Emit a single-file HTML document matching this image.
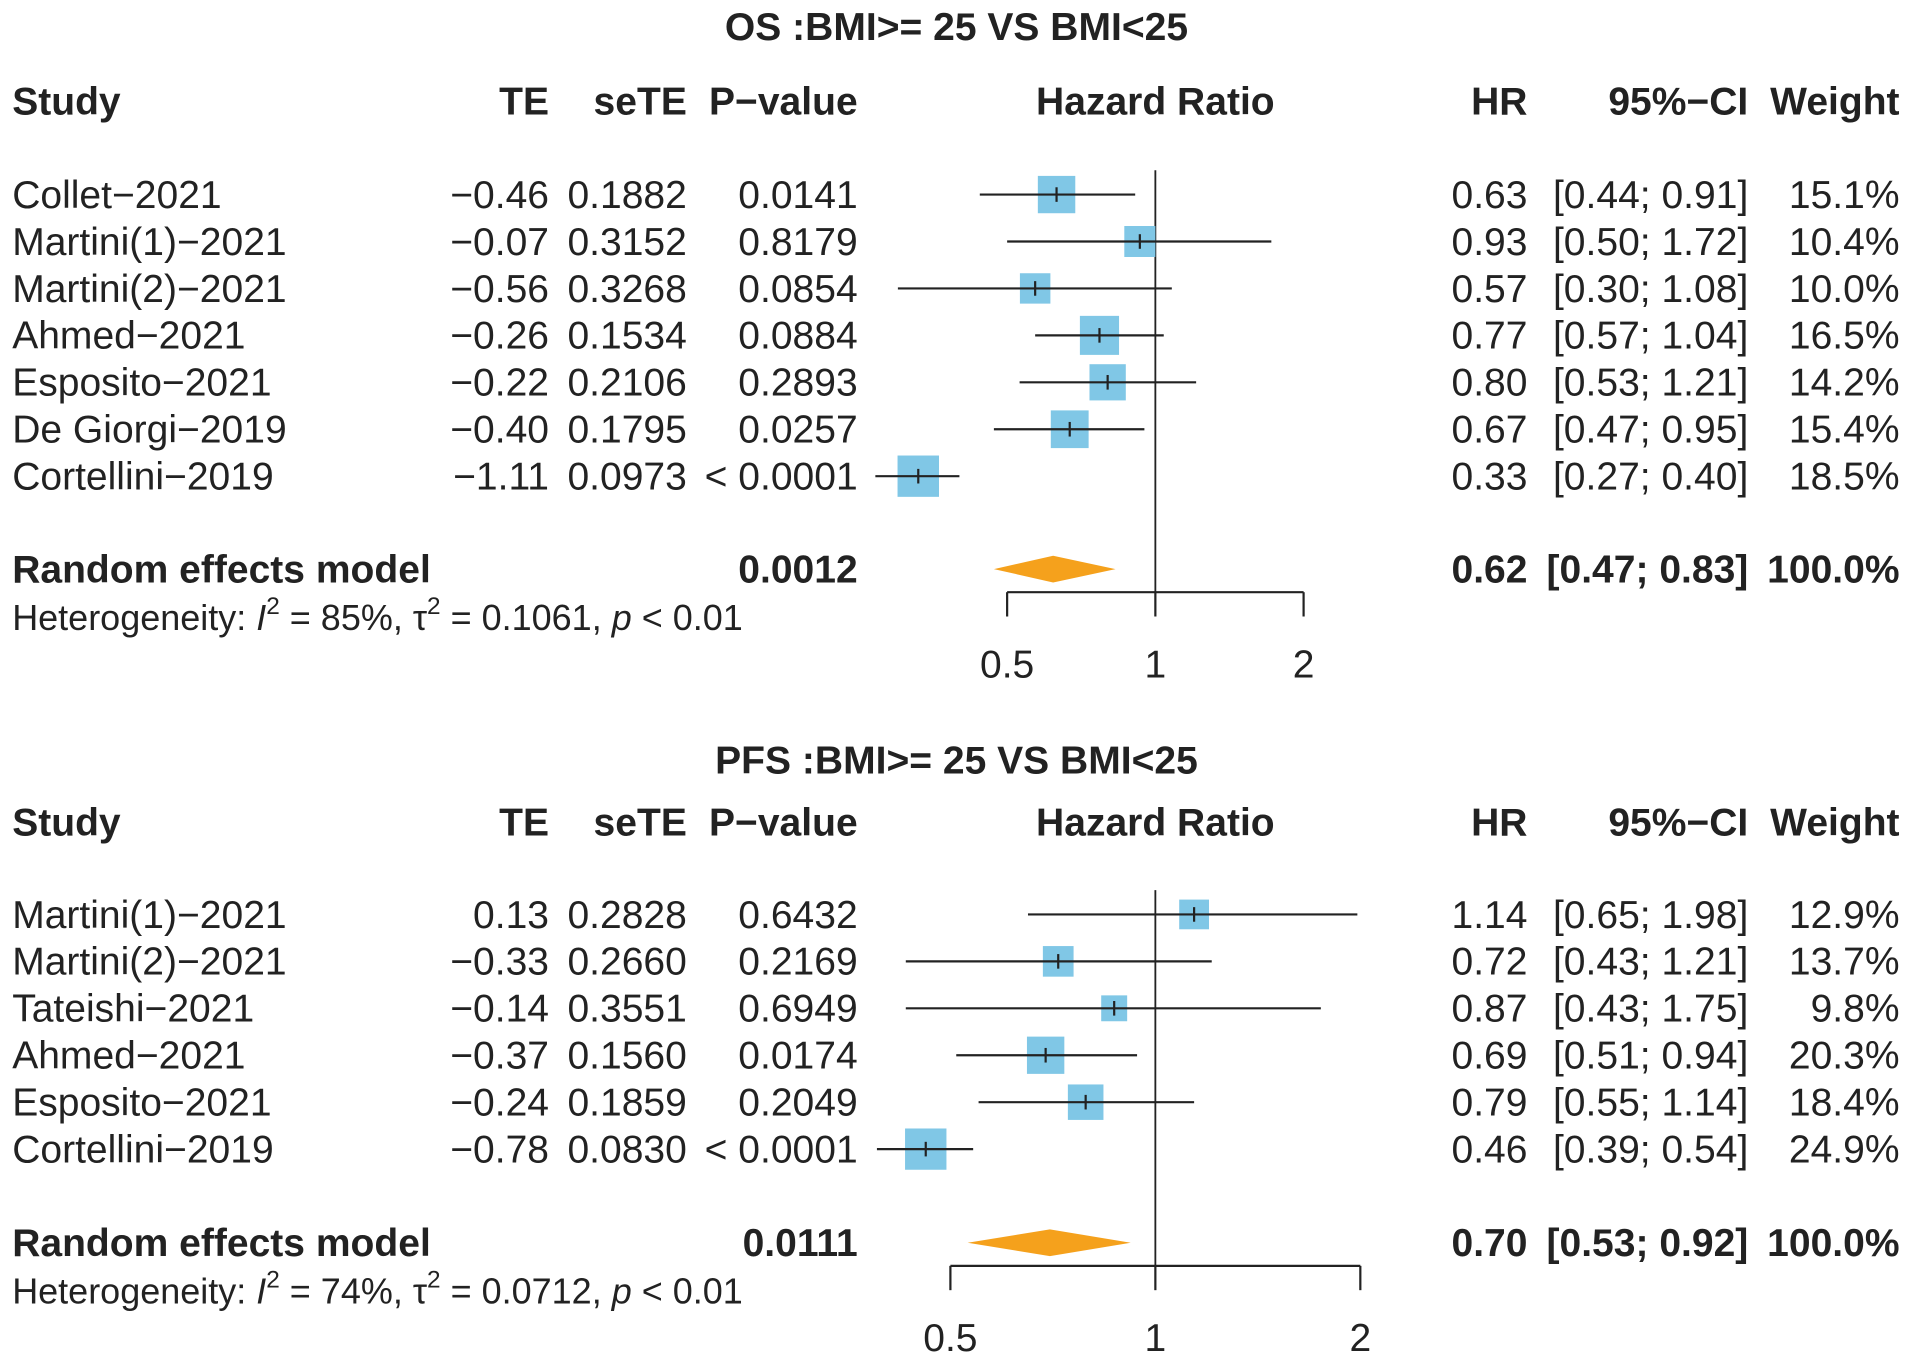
<!DOCTYPE html>
<html><head><meta charset="utf-8"><style>
html,body{margin:0;padding:0;background:#fff;}
svg{display:block;}
text{font-family:"Liberation Sans",Arial,sans-serif;fill:#222;}
</style></head><body>
<svg id="chart" width="1913" height="1368" viewBox="0 0 1568 1125" preserveAspectRatio="none" xmlns="http://www.w3.org/2000/svg"></svg>
<script>
// ---- OS panel data ----
const osStudies = ["Collet\u22122021","Martini(1)\u22122021","Martini(2)\u22122021","Ahmed\u22122021","Esposito\u22122021","De Giorgi\u22122019","Cortellini\u22122019"];
const osTE = ["\u22120.46","\u22120.07","\u22120.56","\u22120.26","\u22120.22","\u22120.40","\u22121.11"];
const osSE = ["0.1882","0.3152","0.3268","0.1534","0.2106","0.1795","0.0973"];
const osP = ["0.0141","0.8179","0.0854","0.0884","0.2893","0.0257","< 0.0001"];
const osHR = [0.63,0.93,0.57,0.77,0.80,0.67,0.33];
const osLo = [0.44,0.50,0.30,0.57,0.53,0.47,0.27];
const osHi = [0.91,1.72,1.08,1.04,1.21,0.95,0.40];
const osW = [15.1,10.4,10.0,16.5,14.2,15.4,18.5];
const osPool = [0.62,0.47,0.83];
const osPoolP = "0.0012";
const osHet = ["85%","0.1061"];
const osTicks = [0.5,1,2];
// ---- PFS panel data ----
const pfsStudies = ["Martini(1)\u22122021","Martini(2)\u22122021","Tateishi\u22122021","Ahmed\u22122021","Esposito\u22122021","Cortellini\u22122019"];
const pfsTE = ["0.13","\u22120.33","\u22120.14","\u22120.37","\u22120.24","\u22120.78"];
const pfsSE = ["0.2828","0.2660","0.3551","0.1560","0.1859","0.0830"];
const pfsP = ["0.6432","0.2169","0.6949","0.0174","0.2049","< 0.0001"];
const pfsHR = [1.14,0.72,0.87,0.69,0.79,0.46];
const pfsLo = [0.65,0.43,0.43,0.51,0.55,0.39];
const pfsHi = [1.98,1.21,1.75,0.94,1.14,0.54];
const pfsW = [12.9,13.7,9.8,20.3,18.4,24.9];
const pfsPool = [0.70,0.53,0.92];
const pfsPoolP = "0.0111";
const pfsHet = ["74%","0.0712"];
const pfsTicks = [0.5,1,2];

const NS="http://www.w3.org/2000/svg";
const svg=document.getElementById('chart');
function el(tag,attrs,parent){const e=document.createElementNS(NS,tag);for(const k in attrs)e.setAttribute(k,attrs[k]);(parent||svg).appendChild(e);return e;}
function txt(x,y,s,anchor,size,bold,parent){const t=el('text',{x:x,y:y,'text-anchor':anchor,'font-size':size,'font-weight':bold?'bold':'normal'},parent);t.textContent=s;return t;}
const fmt=v=>v.toFixed(2);
const pct=v=>v.toFixed(1)+'%';

function panel(o){
  const g=el('g',{});
  
  
  const x=v=>947+o.scale*Math.log2(v);
  const fs=32;
  let t=txt(784,o.titleY,o.title,'middle',fs,true,g);
  
  
  const hy=o.headY;
  const heads=[[10,'Study','start'],[450,'TE','end'],[563,'seTE','end'],[703,'P\u2212value','end'],[947,'Hazard Ratio','middle'],[1252,'HR','end'],[1433,'95%\u2212CI','end'],[1557,'Weight','end']];
  heads.forEach(h=>{const e=txt(h[0],hy,h[1],h[2],fs,true,g);});
  const n=o.studies.length;
  const rowY=i=>o.row0+i*o.dy;
  const ref=el('line',{x1:x(1),x2:x(1),y1:rowY(0)-20,y2:o.axisY,stroke:'#222','stroke-width':1.5},g);
  
  
  for(let i=0;i<n;i++){
    const y=rowY(i);
    const r=el('g',{},g);
    
    
    txt(10,y+11,o.studies[i],'start',fs,false,r);
    txt(450,y+11,o.te[i],'end',fs,false,r);
    txt(563,y+11,o.se[i],'end',fs,false,r);
    txt(703,y+11,o.p[i],'end',fs,false,r);
    txt(1252,y+11,fmt(o.hr[i]),'end',fs,false,r);
    txt(1433,y+11,'['+fmt(o.lo[i])+'; '+fmt(o.hi[i])+']','end',fs,false,r);
    txt(1557,y+11,pct(o.w[i]),'end',fs,false,r);
    const s=o.sq*Math.sqrt(o.w[i]);
    const sq=el('rect',{x:x(o.hr[i])-s/2,y:y-s/2,width:s,height:s,fill:'#80C7E6'},r);
    
    
    const ci=el('line',{x1:x(o.lo[i]),x2:x(o.hi[i]),y1:y,y2:y,stroke:'#222','stroke-width':1.8},r);
    
    
    el('line',{x1:x(o.hr[i]),x2:x(o.hr[i]),y1:y-6,y2:y+6,stroke:'#222','stroke-width':1.8},r);
  }
  const py=o.poolY;
  const pr=el('g',{},g);
  
  
  txt(10,py+11,'Random effects model','start',fs,true,pr);
  txt(703,py+11,o.poolP,'end',fs,true,pr);
  txt(1252,py+11,fmt(o.pool[0]),'end',fs,true,pr);
  txt(1433,py+11,'['+fmt(o.pool[1])+'; '+fmt(o.pool[2])+']','end',fs,true,pr);
  txt(1557,py+11,'100.0%','end',fs,true,pr);
  const dm=el('polygon',{points:`${x(o.pool[1])},${py} ${x(o.pool[0])},${py-11} ${x(o.pool[2])},${py} ${x(o.pool[0])},${py+11}`,fill:'#F5A11C'},pr);
  
  
  const het=el('text',{x:10,y:py+50,'font-size':29.5},g);
  
  
  het.innerHTML='Heterogeneity: <tspan font-style="italic">I</tspan><tspan dy="-13" font-size="20">2</tspan><tspan dy="13"> = '+o.het[0]+', \u03c4</tspan><tspan dy="-13" font-size="20">2</tspan><tspan dy="13"> = '+o.het[1]+', </tspan><tspan font-style="italic">p</tspan> &lt; 0.01';
  const ax=el('g',{},g);
  
  
  const t0=o.ticks[0],t1=o.ticks[o.ticks.length-1];
  el('line',{x1:x(t0),x2:x(t1),y1:o.axisY,y2:o.axisY,stroke:'#222','stroke-width':1.8},ax);
  o.ticks.forEach(tv=>{
    el('line',{x1:x(tv),x2:x(tv),y1:o.axisY,y2:o.axisY+20,stroke:'#222','stroke-width':1.8},ax);
    const tl=txt(x(tv),o.axisY+70,String(tv),'middle',fs,false,ax);
    
    
  });
}
panel({name:'os-panel',title:'OS :BMI>= 25 VS BMI<25',titleY:33,headY:94,row0:160,dy:38.6,studies:osStudies,te:osTE,se:osSE,p:osP,hr:osHR,lo:osLo,hi:osHi,w:osW,pool:osPool,poolP:osPoolP,het:osHet,ticks:osTicks,poolY:468,axisY:487,scale:121.5,sq:7.9});
panel({name:'pfs-panel',title:'PFS :BMI>= 25 VS BMI<25',titleY:636,headY:687,row0:752,dy:38.6,studies:pfsStudies,te:pfsTE,se:pfsSE,p:pfsP,hr:pfsHR,lo:pfsLo,hi:pfsHi,w:pfsW,pool:pfsPool,poolP:pfsPoolP,het:pfsHet,ticks:pfsTicks,poolY:1022,axisY:1041,scale:168,sq:6.8});
</script>
</body></html>
